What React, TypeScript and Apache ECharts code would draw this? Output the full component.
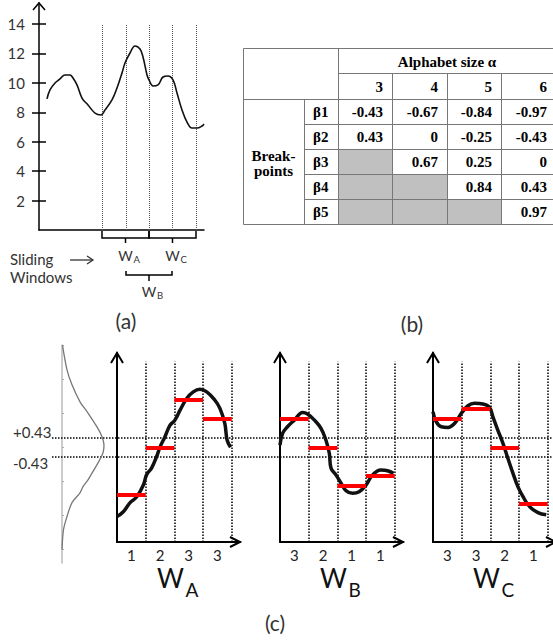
import React, { useEffect, useRef } from 'react';
import * as echarts from 'echarts';

// ---------- (a) raw time series ----------
const seriesTime = [8, 11, 16, 21, 26, 31, 34, 38, 43, 49, 56, 62, 66, 73, 78, 83, 86, 91, 96, 101, 104, 108, 110, 114, 119, 124, 129, 134, 138, 143, 148, 153, 158, 163, 165];
const seriesValue = [8.91, 9.52, 9.99, 10.27, 10.54, 10.54, 10.33, 9.86, 8.97, 8.5, 7.95, 7.82, 8.16, 8.84, 9.65, 10.67, 11.35, 12.03, 12.51, 12.3, 11.76, 10.54, 10.2, 9.79, 9.86, 10.4, 10.47, 10.2, 9.31, 8.16, 7.34, 6.93, 6.93, 7.07, 7.21];
const yTicksA = [2, 4, 6, 8, 10, 12, 14];
const windowBounds = [63, 87, 110, 133, 157];
const windowA = [63, 110];
const windowB = [87, 133];
const windowC = [110, 157];

// ---------- (b) breakpoint table ----------
const alphabetSizes = ['3', '4', '5', '6'];
const breakpointNames = ['β1', 'β2', 'β3', 'β4', 'β5'];
const breakpointRows: (string | null)[][] = [
  ['-0.43', '-0.67', '-0.84', '-0.97'],
  ['0.43', '0', '-0.25', '-0.43'],
  [null, '0.67', '0.25', '0'],
  [null, null, '0.84', '0.43'],
  [null, null, null, '0.97'],
];

// ---------- (c) gaussian + windows ----------
const gaussZ = [3.01, 2.28, 1.84, 1.34, 1.01, 0.6, 0.31, 0.07, -0.16, -0.46, -0.81, -0.96, -1.16, -1.34, -1.63, -2.04, -2.43, -3.01];
const gaussDensity = [0.005, 0.05, 0.1, 0.18, 0.26, 0.35, 0.4, 0.42, 0.41, 0.36, 0.29, 0.26, 0.21, 0.18, 0.1, 0.05, 0.015, 0.0];
const breakpointsC = [0.43, -0.43];
const breakpointLabelsC = ['+0.43', '-0.43'];

const curveWA = [[0, -3.13], [0.22, -2.91], [0.45, -2.51], [0.69, -2.23], [0.92, -1.7], [1.03, -1.24], [1.21, -0.92], [1.38, -0.42], [1.5, 0.02], [1.67, 0.48], [1.85, 1.01], [2.02, 1.24], [2.2, 1.69], [2.43, 2.22], [2.66, 2.52], [2.89, 2.64], [3.13, 2.52], [3.41, 2.15], [3.59, 1.77], [3.76, 1.09], [3.84, 0.34], [3.96, 0.01]];
const curveWB = [[0, 0.11], [0.09, 0.64], [0.26, 0.94], [0.5, 1.24], [0.79, 1.59], [0.96, 1.52], [1.2, 1.24], [1.43, 0.87], [1.6, 0.34], [1.72, -0.26], [1.78, -0.94], [1.95, -1.24], [2.13, -1.62], [2.3, -1.95], [2.53, -2.07], [2.76, -2.0], [3.0, -1.7], [3.23, -1.24], [3.52, -1.02], [3.75, -1.05], [3.96, -1.17]];
const curveWC = [[0, 1.62], [0.11, 1.17], [0.29, 0.94], [0.52, 0.91], [0.75, 1.09], [0.99, 1.55], [1.22, 1.89], [1.45, 2.0], [1.74, 1.97], [1.97, 1.82], [2.09, 1.39], [2.26, 0.79], [2.44, 0.19], [2.61, -0.49], [2.79, -1.17], [2.96, -1.77], [3.14, -2.23], [3.37, -2.68], [3.66, -2.95], [3.95, -3.05]];
const paaWA = [-2.15, 0, 2.18, 1.32];
const paaWB = [1.32, 0, -1.73, -1.29];
const paaWC = [1.32, 1.74, 0, -2.57];
const symbolsWA = ['1', '2', '3', '3'];
const symbolsWB = ['3', '2', '1', '1'];
const symbolsWC = ['3', '3', '2', '1'];

const panels = [
  { name: 'A', curve: curveWA, paa: paaWA, symbols: symbolsWA },
  { name: 'B', curve: curveWB, paa: paaWB, symbols: symbolsWB },
  { name: 'C', curve: curveWC, paa: paaWC, symbols: symbolsWC },
];

const FONT = 'Lato, "Open Sans", sans-serif';
const SERIF = '"Liberation Serif", "DejaVu Serif", serif';
const Z_MAX = 4.28;
const X_MAX = 4.29;

function buildOption(): any {
  const grids = [
    { left: 39, top: 3, width: 165, height: 227 },
    { left: 62, top: 345, width: 45, height: 218 },
    { left: 117, top: 353, width: 123, height: 189 },
    { left: 280, top: 353, width: 123, height: 189 },
    { left: 433, top: 353, width: 123, height: 189 },
    { left: 52, top: 353, width: 501, height: 189 },
  ].map((g) => ({ ...g, containLabel: false, outerBoundsMode: 'none' }));

  const hidden = (gridIndex: number, min: number, max: number) => ({ type: 'value', gridIndex, min, max, show: false });

  const xAxis: any[] = [
    { type: 'value', gridIndex: 0, min: 0, max: 165, axisLine: { onZero: false, lineStyle: { color: '#000', width: 1.5 } }, axisTick: { show: false }, axisLabel: { show: false }, splitLine: { show: false } },
    hidden(1, 0, 0.45),
    ...panels.map((p, i) => ({
      type: 'value', gridIndex: 2 + i, min: 0, max: X_MAX,
      axisLine: { onZero: false, lineStyle: { color: '#000', width: 2 } },
      axisTick: { show: false }, splitLine: { show: false },
      axisLabel: {
        customValues: p.paa.map((_, k) => k + 0.5),
        formatter: (v: number) => p.symbols[Math.floor(v)] ?? '',
        fontSize: 15, fontFamily: FONT, color: '#222', margin: 5,
      },
    })),
    hidden(5, 0, 1),
  ];

  const yAxis: any[] = [
    {
      type: 'value', gridIndex: 0, position: 'left', min: 0, max: 15.43,
      axisLine: { show: true, onZero: false, lineStyle: { color: '#000', width: 1.5 } },
      axisTick: { show: true, customValues: yTicksA, length: 7, lineStyle: { color: '#000', width: 1.5 } },
      axisLabel: { customValues: yTicksA, margin: 14, fontSize: 15, fontFamily: FONT, color: '#333' },
      splitLine: { show: false },
    },
    {
      type: 'value', gridIndex: 0, position: 'left', min: 0, max: 15.43,
      axisLine: { show: false },
      axisTick: { show: true, inside: true, customValues: yTicksA, length: 7, lineStyle: { color: '#000', width: 1.5 } },
      axisLabel: { show: false }, splitLine: { show: false },
    },
    {
      type: 'value', gridIndex: 1, position: 'left', min: -3.41, max: 3.015,
      axisLine: { show: true, onZero: false, lineStyle: { color: '#bbb', width: 1.5 } },
      axisTick: { show: true, inside: true, length: 2, customValues: [-3, -2, -1, 0, 1, 2, 3], lineStyle: { color: '#aaa' } },
      axisLabel: { show: false }, splitLine: { show: false },
    },
    ...panels.map((_, i) => ({
      type: 'value', gridIndex: 2 + i, position: 'left', min: -Z_MAX, max: Z_MAX,
      axisLine: { show: true, onZero: false, lineStyle: { color: '#000', width: 2 } },
      axisTick: { show: false }, axisLabel: { show: false }, splitLine: { show: false },
    })),
    hidden(5, -Z_MAX, Z_MAX),
  ];

  const mlBase = { silent: true, symbol: ['none', 'none'], label: { show: false }, emphasis: { disabled: true } };

  const series: any[] = [
    {
      type: 'line', xAxisIndex: 0, yAxisIndex: 0, z: 6,
      data: seriesTime.map((t, i) => [t, seriesValue[i]]),
      smooth: 0.4, symbol: 'none', lineStyle: { color: '#111', width: 1.6 },
      markLine: { ...mlBase, z: 2, lineStyle: { color: '#555', type: [1, 1], width: 1 }, data: windowBounds.map((t) => [{ coord: [t, 0] }, { coord: [t, 14] }]) },
    },
    {
      type: 'line', xAxisIndex: 1, yAxisIndex: 2,
      data: gaussZ.map((z, i) => [gaussDensity[i], z]),
      smooth: 0.3, symbol: 'none', lineStyle: { color: '#777', width: 1.3 },
    },
    ...panels.flatMap((p, i) => [
      {
        type: 'line', xAxisIndex: 2 + i, yAxisIndex: 3 + i, z: 6,
        data: p.curve, smooth: 0.4, symbol: 'none', lineStyle: { color: '#111', width: 3.5 },
        markLine: { ...mlBase, z: 2, lineStyle: { color: '#000', type: [1.5, 1.5], width: 1.5 }, data: p.paa.map((_, k) => [{ coord: [k + 1, -Z_MAX] }, { coord: [k + 1, 3.88] }]) },
      },
      {
        type: 'line', xAxisIndex: 2 + i, yAxisIndex: 3 + i, z: 8, data: [],
        markLine: { ...mlBase, z: 10, lineStyle: { color: '#ff0000', width: 4, type: 'solid' }, data: p.paa.map((v, k) => [{ coord: [k, v] }, { coord: [k + 1, v] }]) },
      },
    ]),
    {
      type: 'line', xAxisIndex: 5, yAxisIndex: 6, data: [],
      markLine: { ...mlBase, z: 3, lineStyle: { color: '#000', type: [1.5, 1.5], width: 1.5 }, data: breakpointsC.map((v) => ({ yAxis: v })) },
    },
  ];

  return { animation: false, backgroundColor: '#fff', grid: grids, xAxis, yAxis, series };
}

export default function App() {
  const ref = useRef<HTMLDivElement>(null);
  useEffect(() => {
    const chart = echarts.init(ref.current!, null, { renderer: 'svg' });
    chart.setOption(buildOption());

    const px = (g: number, x: number, y: number) => chart.convertToPixel({ gridIndex: g } as any, [x, y]) as unknown as number[];
    const G: any[] = [];
    const line = (x1: number, y1: number, x2: number, y2: number, stroke = '#000', lw = 1.5) =>
      ({ type: 'line', silent: true, shape: { x1, y1, x2, y2 }, style: { stroke, lineWidth: lw } });
    const poly = (points: number[][], stroke = '#000', lw = 1.5) =>
      ({ type: 'polyline', silent: true, shape: { points }, style: { stroke, lineWidth: lw, fill: 'none' } });
    const text = (x: number, y: number, str: string, opts: any = {}) =>
      ({ type: 'text', silent: true, x, y, style: { text: str, fontFamily: FONT, fontSize: 15, fill: '#333', align: 'left', verticalAlign: 'middle', ...opts } });

    // ---- (a) ----
    const tipA = px(0, 0, 15.43);
    G.push(poly([[tipA[0] - 6, tipA[1] + 7], [tipA[0], tipA[1]], [tipA[0] + 6, tipA[1] + 7]]));
    const base = px(0, 0, 0)[1];
    const bracket = (w: number[], yTop: number, yMid: number, yTick: number) => {
      const x1 = px(0, w[0], 0)[0];
      const x2 = px(0, w[1], 0)[0];
      const xc = (x1 + x2) / 2;
      G.push(poly([[x1, yTop], [x1, yMid], [x2, yMid], [x2, yTop]]));
      G.push(line(xc, yMid, xc, yTick));
      return xc;
    };
    const smallW = (xc: number, y: number, sub: string) => {
      G.push(text(xc, y, 'W', { align: 'center', fontSize: 14, fill: '#333' }));
      G.push(text(xc + 8, y + 4, sub, { fontSize: 9.5, fill: '#333' }));
    };
    const xcA = bracket(windowA, base + 1, base + 8, base + 13);
    const xcC = bracket(windowC, base + 1, base + 8, base + 13);
    const xcB = bracket(windowB, base + 41, base + 45, base + 51);
    smallW(xcA, base + 25, 'A');
    smallW(xcC, base + 25, 'C');
    smallW(xcB, base + 61, 'B');
    G.push(text(10, 259, 'Sliding'));
    G.push(text(10, 277, 'Windows'));
    G.push(line(70, 260, 92.5, 260, '#333', 1.3));
    G.push(poly([[87, 256], [93, 260], [87, 264]], '#333', 1.3));
    G.push(text(126, 320, '(a)', { align: 'center', fontSize: 21 }));
    G.push(text(412, 323, '(b)', { align: 'center', fontSize: 21 }));
    G.push(text(275, 622, '(c)', { align: 'center', fontSize: 21 }));

    // ---- (b) table ----
    const colX = [243, 304, 338, 392, 447, 501, 556];
    const rowY = [48, 73, 99, 124, 149, 174, 199, 224];
    const tfont = { fontFamily: SERIF, fontWeight: 'bold', fontSize: 15, fill: '#000' };
    breakpointRows.forEach((row, r) => row.forEach((v, c) => {
      if (v === null) {
        G.push({ type: 'rect', silent: true, shape: { x: colX[2 + c], y: rowY[2 + r], width: colX[3 + c] - colX[2 + c], height: rowY[3 + r] - rowY[2 + r] }, style: { fill: '#c0c0c0' } });
      }
    }));
    const tl = (x1: number, y1: number, x2: number, y2: number) => line(x1 + 0.5, y1 + 0.5, x2 + 0.5, y2 + 0.5, '#777', 1);
    const R = colX[6];
    G.push(tl(colX[0], rowY[0], R, rowY[0]));
    G.push(tl(colX[2], rowY[1], R, rowY[1]));
    G.push(tl(colX[0], rowY[2], R, rowY[2]));
    for (let r = 3; r < rowY.length - 1; r++) G.push(tl(colX[1], rowY[r], R, rowY[r]));
    G.push(tl(colX[0], rowY[7], R, rowY[7]));
    G.push(tl(colX[0], rowY[0], colX[0], rowY[7]));
    G.push(tl(colX[1], rowY[2], colX[1], rowY[7]));
    G.push(tl(colX[2], rowY[0], colX[2], rowY[7]));
    for (let c = 3; c < 6; c++) G.push(tl(colX[c], rowY[1], colX[c], rowY[7]));
    G.push(text((colX[2] + R) / 2, (rowY[0] + rowY[1]) / 2 + 1, 'Alphabet size α', { ...tfont, align: 'center' }));
    alphabetSizes.forEach((a, c) => G.push(text(colX[3 + c] - 9, (rowY[1] + rowY[2]) / 2 + 0.5, a, { ...tfont, align: 'right' })));
    breakpointNames.forEach((b, r) => {
      const yc = (rowY[2 + r] + rowY[3 + r]) / 2;
      G.push(text(colX[1] + 9, yc, b, { ...tfont, align: 'left' }));
      breakpointRows[r].forEach((v, c) => {
        if (v !== null) G.push(text(colX[3 + c] - 9, yc, v, { ...tfont, align: 'right' }));
      });
    });
    const bpx = (colX[0] + colX[1]) / 2;
    G.push(text(bpx, 156, 'Break-', { ...tfont, align: 'center' }));
    G.push(text(bpx, 171, 'points', { ...tfont, align: 'center' }));

    // ---- (c) ----
    panels.forEach((p, i) => {
      const g = 2 + i;
      const yt = px(g, 0, Z_MAX);
      const xt = px(g, X_MAX, -Z_MAX);
      G.push(poly([[yt[0] - 6, yt[1] + 10], yt, [yt[0] + 6, yt[1] + 10]], '#000', 2));
      G.push(poly([[xt[0] - 10, xt[1] - 5], xt, [xt[0] - 10, xt[1] + 5]], '#000', 2));
      const cx = (yt[0] + xt[0]) / 2;
      G.push(text(cx - 8, xt[1] + 36, 'W', { align: 'center', fontSize: 26, fill: '#111' }));
      G.push(text(cx + 7, xt[1] + 47, p.name, { align: 'left', fontSize: 19, fill: '#111' }));
    });
    breakpointsC.forEach((v, k) => {
      const y = px(5, 0, v)[1];
      G.push(text(13, y + (v > 0 ? -6 : 6), breakpointLabelsC[k], { fontSize: 15, fill: '#333' }));
    });

    chart.setOption({ graphic: G });
    return () => chart.dispose();
  }, []);
  return <div ref={ref} style={{ position: 'fixed', left: 0, top: 0, width: 553, height: 641, background: '#fff' }} />;
}
